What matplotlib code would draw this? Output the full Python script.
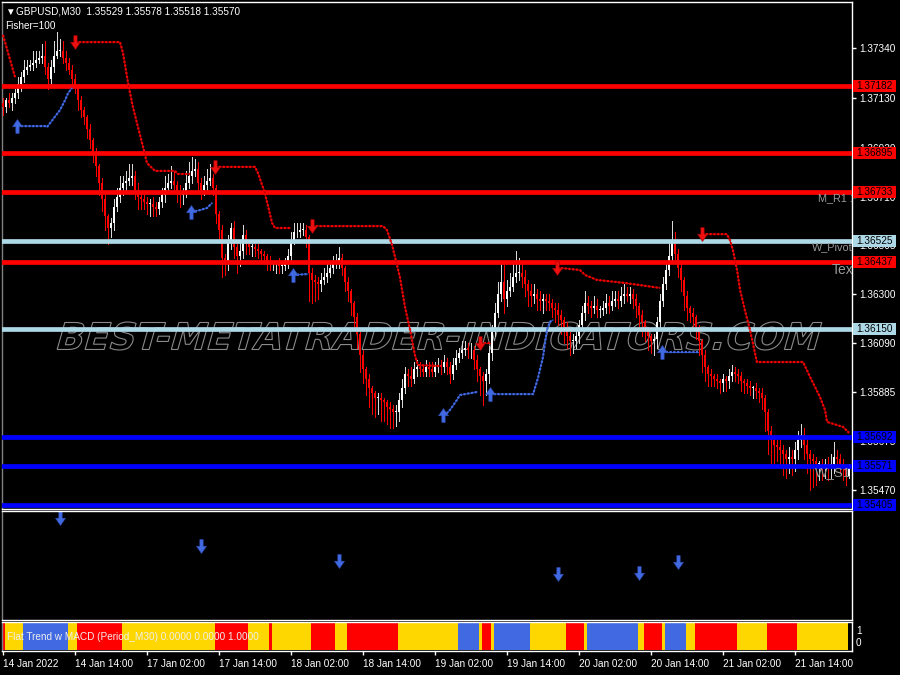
import numpy as np
import matplotlib
matplotlib.use("Agg")
import matplotlib.pyplot as plt
import matplotlib.transforms as mtransforms
from matplotlib.path import Path
from matplotlib.patches import Rectangle, PathPatch
from matplotlib.textpath import TextPath
from matplotlib.font_manager import FontProperties

# ---- data (prices in pips above BASE) ----
BASE = 1.35
PIP = 0.0001

first_open = 211
closes = [
    209, 212, 211, 213, 215, 219, 222, 225, 226, 227, 228, 229, 230, 231, 226, 221, 226, 231, 233, 233, 230, 228, 225, 221,
    218, 212, 208, 205, 200, 195, 190, 184, 177, 170, 163, 158, 160, 167, 171, 175, 177, 178, 179, 180, 174, 171, 170, 169,
    168, 168, 167, 166, 169, 172, 175, 177, 178, 176, 173, 172, 173, 177, 180, 182, 183, 177, 174, 176, 178, 179, 175, 164,
    157, 145, 144, 152, 158, 150, 146, 148, 155, 151, 150, 150, 149, 148, 147, 146, 144, 143, 143, 143, 142, 142, 143, 146,
    153, 156, 156, 157, 157, 154, 139, 136, 135, 134, 136, 137, 139, 141, 143, 143, 145, 141, 135, 131, 126, 120, 113, 104,
    98, 94, 90, 88, 86, 86, 85, 84, 82, 81, 80, 80, 85, 90, 96, 95, 94, 98, 99, 98, 97, 99, 98, 97,
    99, 100, 99, 101, 99, 96, 100, 103, 105, 106, 107, 106, 106, 102, 98, 95, 93, 96, 105, 114, 122, 130, 135, 128,
    131, 133, 137, 139, 139, 137, 134, 131, 129, 130, 128, 127, 128, 127, 126, 124, 123, 121, 119, 116, 112, 110, 110, 112,
    117, 122, 126, 125, 124, 125, 123, 123, 124, 126, 125, 127, 128, 127, 129, 130, 129, 130, 128, 125, 121, 118, 115, 112,
    110, 111, 118, 127, 134, 140, 146, 152, 147, 141, 136, 129, 124, 122, 120, 116, 110, 104, 99, 96, 95, 94, 93, 92,
    94, 93, 95, 97, 96, 95, 93, 92, 91, 90, 90, 89, 88, 86, 80, 72, 68, 66, 65, 64, 62, 60, 61, 60,
    64, 68, 70, 66, 62, 60, 59, 58, 58, 57, 58, 57, 58, 61, 60, 58, 56, 52.9, 57.0,
]
wick_up = [
    2, 1, 3, 2, 2, 3, 2, 4, 3, 2, 5, 4, 3, 5, 6, 2, 3, 6, 8, 5, 4, 3, 2, 2,
    2, 1, 2, 1, 1, 2, 1, 2, 1, 2, 3, 1, 2, 3, 4, 5, 3, 4, 6, 5, 2, 3, 2, 3,
    2, 2, 3, 2, 2, 3, 5, 4, 6, 4, 2, 3, 2, 5, 6, 6, 4, 3, 2, 4, 5, 6, 2, 1,
    1, 2, 2, 3, 2, 3, 2, 4, 4, 2, 2, 1, 1, 2, 1, 1, 1, 2, 1, 1, 2, 1, 2, 3,
    3, 4, 4, 3, 3, 2, 1, 2, 2, 2, 3, 4, 4, 3, 3, 4, 5, 2, 1, 2, 1, 1, 2, 1,
    2, 1, 2, 1, 1, 2, 2, 1, 1, 2, 2, 3, 3, 4, 3, 2, 4, 3, 3, 2, 2, 3, 2, 3,
    2, 3, 2, 3, 2, 2, 3, 3, 2, 4, 3, 2, 3, 2, 2, 1, 2, 2, 3, 3, 4, 5, 8, 9,
    5, 6, 7, 9, 6, 4, 3, 2, 3, 4, 2, 3, 2, 2, 3, 2, 2, 3, 2, 1, 2, 2, 3, 3,
    2, 3, 5, 3, 2, 4, 3, 2, 3, 4, 3, 4, 3, 3, 4, 4, 3, 3, 2, 2, 1, 2, 1, 1,
    1, 2, 2, 3, 3, 4, 6, 9, 4, 2, 2, 1, 2, 1, 2, 1, 1, 1, 2, 1, 2, 1, 2, 1,
    2, 1, 3, 3, 2, 2, 2, 1, 2, 2, 1, 2, 1, 2, 1, 1, 2, 2, 2, 3, 2, 2, 4, 3,
    3, 4, 5, 3, 2, 2, 2, 2, 1, 2, 2, 3, 4, 6, 3, 2, 2, 1, 0.8,
]
wick_dn = [
    3, 2, 2, 3, 2, 2, 3, 2, 2, 1, 2, 2, 1, 2, 3, 4, 2, 2, 1, 2, 2, 3, 2, 3,
    3, 4, 3, 3, 4, 3, 4, 4, 5, 5, 6, 7, 4, 3, 2, 2, 3, 3, 2, 3, 4, 5, 4, 3,
    4, 5, 4, 3, 2, 2, 3, 2, 2, 3, 4, 5, 4, 2, 2, 3, 2, 3, 4, 2, 2, 2, 3, 4,
    5, 8, 6, 4, 3, 5, 7, 4, 3, 4, 3, 4, 3, 3, 4, 3, 4, 3, 3, 4, 3, 3, 2, 2,
    2, 2, 2, 2, 2, 4, 12, 10, 8, 6, 3, 2, 2, 2, 2, 2, 2, 3, 4, 4, 5, 5, 6, 7,
    6, 7, 8, 9, 8, 7, 9, 8, 7, 8, 7, 6, 4, 3, 2, 4, 3, 2, 3, 3, 2, 2, 3, 2,
    2, 2, 3, 2, 3, 4, 2, 2, 2, 2, 2, 3, 3, 4, 5, 8, 10, 6, 4, 3, 2, 2, 3, 6,
    3, 2, 2, 2, 3, 4, 5, 6, 4, 3, 5, 4, 5, 4, 3, 4, 5, 4, 6, 7, 5, 6, 5, 3,
    3, 2, 3, 3, 4, 2, 3, 3, 2, 2, 3, 2, 2, 3, 2, 3, 2, 3, 4, 5, 6, 6, 5, 6,
    5, 6, 4, 3, 2, 2, 2, 2, 3, 4, 5, 6, 5, 4, 4, 5, 6, 7, 6, 5, 4, 3, 3, 4,
    3, 4, 3, 2, 3, 3, 4, 4, 3, 3, 4, 3, 4, 5, 8, 10, 12, 8, 6, 7, 9, 8, 6, 7,
    5, 4, 3, 6, 8, 13, 11, 9, 7, 6, 5, 6, 5, 4, 3, 4, 5, 4, 1.1,
]

# trailing stop segments: (bars, pips)
red_trail = [
    ([0, 4], [239.7, 221.9]),
    ([24, 39, 40, 41.7, 43.3, 45, 46.7, 48, 50.7, 57.3, 58.3, 62.3],
     [236.7, 236.7, 232.1, 219.3, 209.2, 200.7, 192.2, 185.4, 182.1, 182.1, 180.8, 180.8]),
    ([70.7, 84, 85, 87.3, 89.7, 90.7, 95.7], [183.8, 183.8, 181.2, 172.7, 160.0, 157.9, 157.9]),
    ([103, 126.7, 128, 129.7, 132.3, 134, 135.7, 137.3, 138.3, 145.7],
     [158.7, 158.7, 157.0, 150.7, 137.1, 124.4, 114.7, 104.1, 99.8, 99.4]),
    ([159, 162.3], [109.1, 109.1]),
    ([184.7, 192.3, 194, 198, 207.3, 219], [141.1, 140.1, 138.0, 135.9, 134.6, 132.5]),
    ([233, 241.3, 242.3, 243.3, 244.7, 245.7, 247.3, 249, 251.3, 266.7, 269, 270.7, 272.3, 274, 274.7, 280, 282],
     [155.3, 155.3, 152.8, 148.5, 140.0, 131.6, 123.1, 114.7, 101.1, 101.1, 94.8, 90.5, 86.3, 80.8, 75.7, 73.6, 71.1]),
]
red_trail_arrow = [False, True, True, True, True, True, True]
blue_trail = [
    ([4.7, 14, 14.7, 15.7, 19, 20.7, 21.7, 23], [201.1, 201.1, 200.7, 202.4, 207.9, 212.1, 215.1, 217.2]),
    ([62.7, 65.7, 68, 69.7], [164.7, 165.5, 166.4, 168.5]),
    ([96.7, 101.7], [138.0, 138.4]),
    ([146.7, 148, 149, 151.3, 152.3, 158], [78.6, 79.5, 80.8, 85.0, 87.1, 88.4]),
    ([162.3, 176.7, 178.3, 180, 181.3, 182.3, 183.3], [87.5, 87.5, 94.2, 103.2, 114.7, 118.1, 118.9]),
    ([219.7, 231.7], [105.3, 105.3]),
]

level_prices = [1.37182, 1.36895, 1.36733, 1.36525, 1.36437, 1.36150, 1.35692, 1.35571, 1.35405]
level_kinds = ["R", "R", "R", "P", "R", "P", "S", "S", "S"]
level_names = ["M_R1 1", "W_Pivot", "Tex", "W_S1"]
level_name_prices = [1.36733, 1.36525, 1.36437, 1.35571]

price_ticks = [1.37340, 1.37130, 1.36920, 1.36710, 1.36505, 1.36300, 1.36090, 1.35885, 1.35675, 1.35470]
time_labels = ["14 Jan 2022", "14 Jan 14:00", "17 Jan 02:00", "17 Jan 14:00", "18 Jan 02:00", "18 Jan 14:00",
               "19 Jan 02:00", "19 Jan 14:00", "20 Jan 02:00", "20 Jan 14:00", "21 Jan 02:00", "21 Jan 14:00"]
time_label_bars = [0, 24, 48, 72, 96, 120, 144, 168, 192, 216, 240, 264]

signal_bars = [19, 66, 112, 185, 212, 225]
signal_levels = [93.6, 67.9, 54.1, 42.2, 43.1, 53.2]

trend_state = ["down", "flat", "up", "flat", "down", "flat", "down", "flat", "down", "flat", "down", "flat",
               "down", "flat", "up", "flat", "down", "flat", "up", "flat", "down", "flat", "up", "flat",
               "down", "flat", "up", "flat", "down", "flat", "down", "flat", "none"]
trend_len = [1, 6, 15, 3, 15, 31, 11, 7, 1, 13, 8, 4, 17, 20, 7, 1, 3, 1, 12, 12, 6, 1, 17, 2,
             6, 1, 7, 3, 14, 10, 10, 17, 1]

# ---- styling ----
W, H = 900, 675
FS = 7.2
plt.rcParams["font.family"] = ["Liberation Sans", "DejaVu Sans"]
RED, LBLUE, BLUE, ROYAL, GOLD = "#ff0000", "#add8e6", "#0000ff", "#4169e1", "#ffd700"
level_color = {"R": RED, "P": LBLUE, "S": BLUE}
state_color = {"flat": GOLD, "up": ROYAL, "down": RED, "none": "black"}


def px_axes(x0, ytop, x1, ybot):
    return [x0 / W, 1 - ybot / H, (x1 - x0) / W, (ybot - ytop) / H]


fig = plt.figure(figsize=(W / 100, H / 100), dpi=100, facecolor="black")
ax = fig.add_axes(px_axes(2, 2, 852, 509))
ax2 = fig.add_axes(px_axes(2, 511, 852, 620))
ax3 = fig.add_axes(px_axes(2, 622, 852, 651))
XLIM = (-1 / 3, 283)
for a in (ax, ax2, ax3):
    a.set_facecolor("black")
    a.set_xlim(*XLIM)
    for s in a.spines.values():
        s.set_color("white")
        s.set_linewidth(1)
    a.spines["left"].set_color("#808080")
    a.tick_params(axis="x", bottom=False, labelbottom=False)
    a.tick_params(axis="y", left=False, labelleft=False, right=False, labelright=False)

ax.set_ylim(1.35388, 1.37537)
ax2.set_ylim(0, 100)
ax3.set_ylim(0, 1)

# arrow markers
arrow_dn = Path([(-0.12, 0.5), (0.12, 0.5), (0.12, 0.02), (0.36, 0.02), (0.0, -0.5),
                 (-0.36, 0.02), (-0.12, 0.02), (-0.12, 0.5)], closed=True)
arrow_up = Path([(x, -y) for x, y in arrow_dn.vertices], closed=True)

# candles
c = BASE + np.array(closes) * PIP
o = BASE + np.array([first_open] + closes[:-1]) * PIP
xb = np.arange(len(c))
top = np.maximum(o, c)
bot = np.minimum(o, c)
hi = top + np.array(wick_up) * PIP
lo = bot - np.array(wick_dn) * PIP
bull = c >= o
body = np.maximum(top - bot, 0.4 * PIP)
ax.vlines(xb[bull], lo[bull], hi[bull], color="#d8d8d8", lw=0.72, zorder=3, antialiased=False)
ax.vlines(xb[~bull], lo[~bull], hi[~bull], color=RED, lw=0.72, zorder=3, antialiased=False)
ax.bar(xb[bull], body[bull], bottom=bot[bull], width=0.9, color="white", lw=0, zorder=4, antialiased=False)
ax.bar(xb[~bull], body[~bull], bottom=bot[~bull], width=0.9, color=RED, lw=0, zorder=4, antialiased=False)

# level lines
for p, k in zip(level_prices, level_kinds):
    ax.axhline(p, color=level_color[k], lw=3.4, zorder=5)

# trailing stops
for (bx, pv), has_arrow in zip(red_trail, red_trail_arrow):
    yy = BASE + np.array(pv) * PIP
    ax.plot(bx, yy, color="#a80000", lw=0.8, zorder=6)
    ax.plot(bx, yy, color="#f00000", lw=1.6, ls=(0, (1, 0.7)), dash_capstyle="butt", zorder=6)
    if has_arrow:
        ax.plot(bx[0], yy[0], marker=arrow_dn, ms=10, color="#ee1010", mec="#a00000", mew=0.4, zorder=7)
for bx, pv in blue_trail:
    yy = BASE + np.array(pv) * PIP
    ax.plot(bx, yy, color="#2f4fb8", lw=0.8, zorder=6)
    ax.plot(bx, yy, color=ROYAL, lw=1.6, ls=(0, (1, 0.7)), dash_capstyle="butt", zorder=6)
    ax.plot(bx[0], yy[0], marker=arrow_up, ms=10, color=ROYAL, mec="#2f4fb8", mew=0.4, zorder=7)

# price axis
ax.yaxis.tick_right()
ax.set_yticks(price_ticks)
ax.set_yticklabels([f"{p:.5f}" for p in price_ticks])
ax.tick_params(axis="y", right=True, labelright=True, direction="out", length=3, width=1,
               colors="white", labelsize=FS, pad=2)

# level labels on the price axis
ybox = mtransforms.blended_transform_factory(ax.transAxes, ax.transData)
box_h = 12 * (1.37537 - 1.35388) / 507
for p, k in zip(level_prices, level_kinds):
    ax.add_patch(Rectangle((1 + 1 / 850, p - box_h / 2), 43 / 850, box_h, transform=ybox,
                           facecolor=level_color[k], edgecolor="none", clip_on=False, zorder=20))
    ax.text(1 + 4 / 850, p, f"{p:.5f}", transform=ybox, color="black", fontsize=FS,
            va="center", ha="left", clip_on=False, zorder=21)

# level names (right side of chart)
name_x = [271.7, 269.7, 276.3, 270.7]
name_size = [FS + 0.6, FS + 0.6, 10, 9.5]
for nm, p, nx, fs in zip(level_names, level_name_prices, name_x, name_size):
    ax.text(nx, p - 0.00006, nm, color="#9a9a9a", fontsize=fs, va="top", ha="left", clip_on=True, zorder=8)

# watermark
wm = TextPath((0, 0), "BEST-METATRADER-INDICATORS.COM", size=10,
              prop=FontProperties(family="DejaVu Sans", weight="bold"))
bb = wm.get_extents()
wm_tr = (mtransforms.Affine2D().translate(-bb.x0, -bb.y0).skew_deg(16, 0)
         .scale((765 - 8) / bb.width / 100, 28 / bb.height / 100).translate(57 / 100, (H - 350) / 100)
         + fig.dpi_scale_trans)
ax.add_artist(PathPatch(wm, transform=wm_tr, facecolor="none", edgecolor="#8a8a8a", lw=0.8, zorder=1))

# header
fig.text(5 / W, 1 - 12 / H, "\u25bc", color="white", fontsize=7, va="center", ha="left")
fig.text(16 / W, 1 - 12 / H,
         f"GBPUSD,M30  {o[-1]:.5f} {hi[-1]:.5f} {lo[-1]:.5f} {c[-1]:.5f}",
         color="white", fontsize=FS, va="center", ha="left")
fig.text(5 / W, 1 - 26 / H, "Fisher=100", color="white", fontsize=FS, va="center", ha="left")

# signal sub-window
ax2.plot(signal_bars, signal_levels, ls="none", marker=arrow_dn, ms=10, color=ROYAL,
         mec="#2f4fb8", mew=0.4)

# trend colour bar
start = 0
for st, n in zip(trend_state, trend_len):
    ax3.broken_barh([(start - 0.5, n)], (0.05, 0.9), facecolors=state_color[st], edgecolor="none")
    start += n
ax3.text(5 / 850, 0.5, "Flat Trend w MACD (Period_M30) 0.0000 0.0000 1.0000", transform=ax3.transAxes,
         color="#eeeeee", fontsize=FS, va="center", ha="left")
fig.text(856 / W, 1 - 631 / H, "1", color="white", fontsize=FS, va="center")
fig.text(856 / W, 1 - 643 / H, "0", color="white", fontsize=FS, va="center")
ax3.set_xticks(time_label_bars)
ax3.set_xticklabels(time_labels)
ax3.tick_params(axis="x", bottom=True, labelbottom=True, direction="out", length=3, width=1,
                colors="white", labelsize=FS, pad=3)
for lbl in ax3.get_xticklabels():
    lbl.set_ha("left")

fig.savefig("out.png", dpi=100, facecolor="black")
